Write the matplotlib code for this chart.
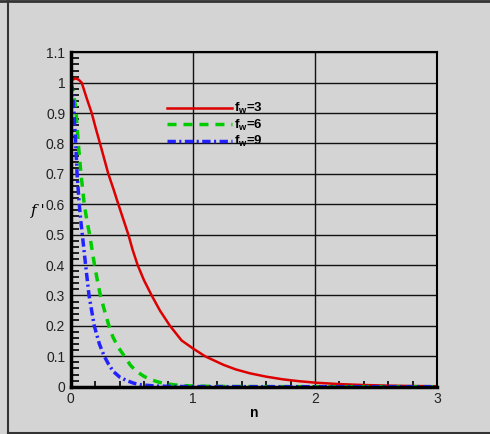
import matplotlib
matplotlib.use("Agg")
import matplotlib.pyplot as plt
from matplotlib.lines import Line2D
import numpy as np

# Data
n3 = [0.0, 0.015, 0.041, 0.065, 0.09, 0.13, 0.172, 0.205, 0.24, 0.274, 0.308, 0.35, 0.39, 0.431,
      0.472, 0.507, 0.548, 0.6, 0.663, 0.731, 0.813, 0.908, 1.0, 1.1, 1.25, 1.35, 1.467, 1.6, 1.74,
      1.87, 2.01, 2.2, 2.4, 2.6, 2.8, 3.0]
f3 = [1.0, 1.01, 1.014, 1.01, 1.0, 0.95, 0.9, 0.85, 0.8, 0.75, 0.7, 0.65, 0.6, 0.55,
      0.5, 0.45, 0.4, 0.35, 0.3, 0.25, 0.2, 0.152, 0.126, 0.1, 0.072, 0.057, 0.044, 0.033, 0.024,
      0.018, 0.013, 0.0085, 0.0055, 0.0035, 0.0022, 0.0014]

n6 = [0.0, 0.02, 0.041, 0.062, 0.084, 0.111, 0.133, 0.155, 0.175, 0.195, 0.218, 0.243, 0.277, 0.313,
      0.345, 0.385, 0.44, 0.49, 0.54, 0.6, 0.65, 0.72, 0.772, 0.85, 0.95, 1.1, 1.33, 1.7, 2.2, 3.0]
f6 = [1.0, 0.97, 0.92, 0.8, 0.7, 0.6, 0.545, 0.5, 0.45, 0.4, 0.35, 0.3, 0.25, 0.2,
      0.164, 0.132, 0.1, 0.07, 0.05, 0.034, 0.024, 0.015, 0.01, 0.006, 0.003, 0.0015, 0.0006, 0.0002, 0.0, 0.0]

n9 = [0.0, 0.013, 0.027, 0.041, 0.052, 0.07, 0.084, 0.095, 0.122, 0.15, 0.193, 0.235, 0.275, 0.31,
      0.349, 0.4, 0.458, 0.52, 0.58, 0.7, 0.85, 1.1, 1.5, 3.0]
f9 = [1.0, 0.98, 0.9, 0.8, 0.7, 0.6, 0.54, 0.5, 0.4, 0.3, 0.2, 0.14, 0.1, 0.074,
      0.05, 0.032, 0.02, 0.011, 0.006, 0.002, 0.0008, 0.0002, 0.0, 0.0]

labels = ["3", "6", "9"]
xticks = [0, 1, 2, 3]
yticks = [0, 0.1, 0.2, 0.3, 0.4, 0.5, 0.6, 0.7, 0.8, 0.9, 1.0, 1.1]
yticklabels = ["0", "0.1", "0.2", "0.3", "0.4", "0.5", "0.6", "0.7", "0.8", "0.9", "1", "1.1"]

plt.rcParams['font.family'] = ['Liberation Sans', 'DejaVu Sans']
plt.rcParams['mathtext.fontset'] = 'custom'
plt.rcParams['mathtext.bf'] = 'Liberation Sans:bold'
plt.rcParams['mathtext.rm'] = 'Liberation Sans:bold'

bg = '#d4d4d4'
fig = plt.figure(figsize=(4.9, 4.34), dpi=100, facecolor=bg)
ax = fig.add_axes([0.1443, 0.109, 0.748, 0.7705])
ax.set_facecolor(bg)

# frame lines on figure
fig.add_artist(Line2D([7.5/490, 7.5/490], [0, 1], transform=fig.transFigure, color='#333333', lw=1.5))
fig.add_artist(Line2D([0, 1], [433/434, 433/434], transform=fig.transFigure, color='#333333', lw=2))
fig.add_artist(Line2D([7.5/490, 1], [1.5/434, 1.5/434], transform=fig.transFigure, color='#333333', lw=1.5))

ax.set_xlim(0, 3)
ax.set_ylim(0, 1.1)
ax.set_xticks(xticks)
ax.set_yticks(yticks)
ax.set_yticklabels(yticklabels)
ax.set_xticks(np.arange(0, 3.01, 0.2), minor=True)
ax.set_yticks(np.arange(0, 1.101, 0.02), minor=True)
ax.grid(True, which='major', color='#111111', lw=1.0)
ax.tick_params(which='both', direction='in', top=False, right=False, labelsize=10, colors='#222222')
ax.tick_params(which='major', length=0, pad=4)
ax.tick_params(which='minor', length=6, width=1.2, color='black')
ax.tick_params(axis='x', which='minor', length=4)
for s in ['left', 'bottom']:
    ax.spines[s].set_linewidth(2.5)
for s in ['top', 'right']:
    ax.spines[s].set_linewidth(1.5)

l1, = ax.plot(n3, f3, color='#dd0000', lw=1.8, ls='-')
l2, = ax.plot(n6, f6, color='#00cc00', lw=2.5, ls=(0, (2.6, 2.0)))
l3, = ax.plot(n9, f9, color='#2222ff', lw=2.5, ls=(0, (2.4, 1.0, 0.6, 1.0)))

ax.legend([l1, l2, l3], [r'$\mathbf{f_w}$=' + s for s in labels],
          loc='upper left', bbox_to_anchor=(0.245, 0.873), frameon=False,
          handlelength=4.9, handletextpad=0.2, labelspacing=0.1,
          prop={'weight': 'bold', 'size': 9.5}, borderpad=0)

ax.set_xlabel('n', fontweight='bold', fontsize=10, labelpad=0)
fig.text(38/490, 1 - 211/434, "f '", fontfamily='DejaVu Serif', fontstyle='italic', fontsize=11, ha='center', va='center')

fig.savefig('out.png', dpi=100, facecolor=bg)
